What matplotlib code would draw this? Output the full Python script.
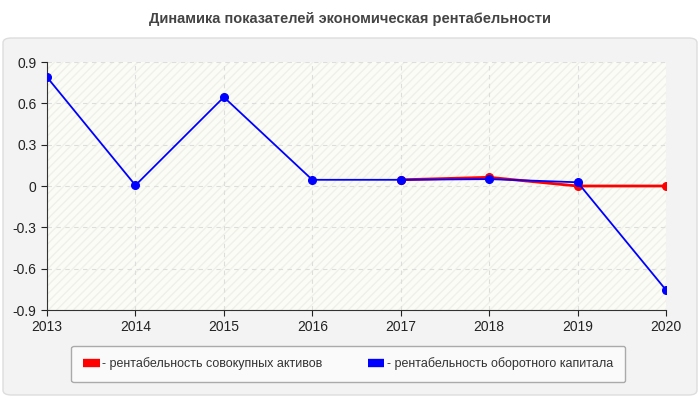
import matplotlib
matplotlib.use('Agg')
import matplotlib.pyplot as plt
import numpy as np
from matplotlib.patches import FancyBboxPatch
from matplotlib.lines import Line2D

plt.rcParams['font.family'] = ['Liberation Sans', 'DejaVu Sans']

years = [2013, 2014, 2015, 2016, 2017, 2018, 2019, 2020]
assets = [np.nan, np.nan, np.nan, np.nan, 0.045, 0.063, 0.0, 0.0]
capital = [0.79, 0.005, 0.645, 0.045, 0.045, 0.05, 0.027, -0.755]
yticks = [-0.9, -0.6, -0.3, 0, 0.3, 0.6, 0.9]
ytick_labels = ['-0.9', '-0.6', '-0.3', '0', '0.3', '0.6', '0.9']
title = 'Динамика показателей экономическая рентабельности'
labels = ['- рентабельность совокупных активов', '- рентабельность оборотного капитала']

fig = plt.figure(figsize=(7, 4), dpi=100)
fig.patch.set_facecolor('white')

# grey panel behind the chart
panel = FancyBboxPatch((3/700, 5/400), 694/700, 357/400,
                       boxstyle='round,pad=0,rounding_size=0.012',
                       transform=fig.transFigure, facecolor='#f3f3f3',
                       edgecolor='#dddddd', linewidth=1, zorder=-5)
fig.patches.append(panel)

fig.text(0.5, 1 - 19/400, title, ha='center', va='center',
         fontsize=10.5, fontweight='bold', color='#444444')

ax = fig.add_axes([47/700, 1 - 310/400, (666-47)/700, (310-62)/400], zorder=2)
ax.set_facecolor('#fcfcf6')
ax.fill_between([2013, 2020], -0.9, 0.9, facecolor='none', hatch='////',
                edgecolor='#f0f0ea', linewidth=0, zorder=0)

ax.plot(years, assets, color='red', lw=2, marker='o', ms=5.5, zorder=3)
ax.plot(years, capital, color='blue', lw=1.3, marker='o', ms=5.5, zorder=4)

ax.set_xlim(2013, 2020)
ax.set_ylim(-0.9, 0.9)
ax.set_xticks(years)
ax.set_xticklabels([str(y) for y in years])
ax.set_yticks(yticks)
ax.set_yticklabels(ytick_labels)
ax.tick_params(labelsize=10, colors='#222222', length=4, width=0.8)
ax.grid(True, color='#dddddd', ls=(0, (4, 4)), lw=0.8)
for side in ['top', 'right']:
    ax.spines[side].set_visible(False)
ax.spines['left'].set_color('#333333')
ax.spines['bottom'].set_color('#333333')

handles = [Line2D([], [], color='red', lw=6, solid_capstyle='butt'),
           Line2D([], [], color='blue', lw=6, solid_capstyle='butt')]
leg = fig.legend(handles, labels, loc='center', ncol=2,
                 bbox_to_anchor=(348/700, 1 - 364/400), fontsize=9,
                 frameon=True, fancybox=True, handlelength=1.35,
                 handletextpad=0.2, columnspacing=3.6,
                 borderpad=0.95, edgecolor='#aaaaaa', facecolor='#fafafa')
leg.get_frame().set_alpha(1)
for t in leg.get_texts():
    t.set_color('#333333')

plt.savefig('out.png', dpi=100)
